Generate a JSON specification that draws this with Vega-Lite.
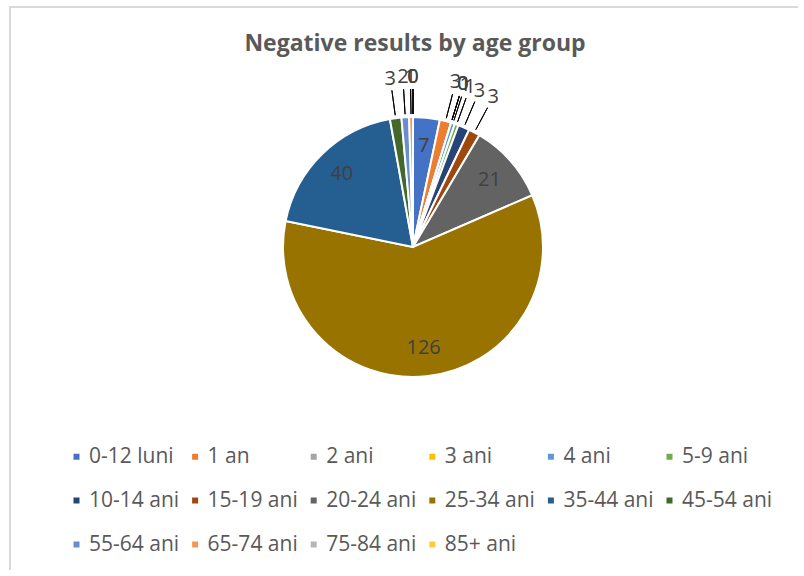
{
  "$schema": "https://vega.github.io/schema/vega-lite/v6.json",
  "autosize": "none",
  "width": 794,
  "height": 569,
  "padding": {"left": 10, "top": 7, "right": -6, "bottom": -6},
  "background": "#ffffff",
  "title": {
    "text": "Negative results by age group",
    "font": "Open Sans",
    "fontSize": 23,
    "fontWeight": "bold",
    "color": "#595959",
    "anchor": "middle",
    "dx": 8,
    "offset": -50
  },
  "data": {
    "values": [
      {"i": 0, "age": "0-12 luni", "n": 7},
      {"i": 1, "age": "1 an", "n": 3},
      {"i": 2, "age": "2 ani", "n": 0},
      {"i": 3, "age": "3 ani", "n": 0},
      {"i": 4, "age": "4 ani", "n": 1},
      {"i": 5, "age": "5-9 ani", "n": 1},
      {"i": 6, "age": "10-14 ani", "n": 3},
      {"i": 7, "age": "15-19 ani", "n": 3},
      {"i": 8, "age": "20-24 ani", "n": 21},
      {"i": 9, "age": "25-34 ani", "n": 126},
      {"i": 10, "age": "35-44 ani", "n": 40},
      {"i": 11, "age": "45-54 ani", "n": 3},
      {"i": 12, "age": "55-64 ani", "n": 2},
      {"i": 13, "age": "65-74 ani", "n": 1},
      {"i": 14, "age": "75-84 ani", "n": 0},
      {"i": 15, "age": "85+ ani", "n": 0}
    ]
  },
  "transform": [
    {"stack": "n", "groupby": [], "sort": [{"field": "i", "order": "ascending"}], "as": ["s0", "s1"]},
    {"calculate": "(datum.s0 + datum.s1) / 2", "as": "mid"}
  ],
  "layer": [
    {
      "mark": {"type": "rect", "fill": null, "stroke": "#D9D9D9", "strokeWidth": 2},
      "encoding": {}
    },
    {
      "mark": {"type": "arc", "radius": 130, "stroke": "#ffffff", "strokeWidth": 2, "xOffset": 6, "yOffset": -44.5},
      "encoding": {
        "theta": {"field": "s0", "type": "quantitative", "scale": {"domain": [0, 211]}},
        "theta2": {"field": "s1"},
        "color": {
          "field": "age",
          "type": "nominal",
          "scale": {
            "domain": ["0-12 luni", "1 an", "2 ani", "3 ani", "4 ani", "5-9 ani", "10-14 ani", "15-19 ani", "20-24 ani", "25-34 ani", "35-44 ani", "45-54 ani", "55-64 ani", "65-74 ani", "75-84 ani", "85+ ani"],
            "range": ["#4472C4", "#ED7D31", "#A5A5A5", "#FFC000", "#5B9BD5", "#70AD47", "#264478", "#9E480E", "#636363", "#997300", "#255E91", "#43682B", "#698ED0", "#F1975A", "#B7B7B7", "#FFCD33"]
          },
          "legend": {
            "title": null,
            "orient": "none",
            "legendX": 56,
            "legendY": 439,
            "direction": "horizontal",
            "columns": 6,
            "gridAlign": "each",
            "columnPadding": 4.6,
            "rowPadding": 22,
            "symbolType": "square",
            "symbolSize": 36,
            "symbolStrokeWidth": 0,
            "labelFont": "Open Sans",
            "labelFontSize": 21,
            "labelColor": "#595959",
            "labelOffset": 2,
            "labelLimit": 200
          }
        }
      }
    },
    {
      "transform": [{"filter": "datum.n < 7"}],
      "mark": {"type": "arc", "radius": 158, "radius2": 133, "fill": null, "stroke": "#000000", "strokeWidth": 1, "xOffset": 6, "yOffset": -44.5},
      "encoding": {
        "theta": {"field": "mid", "type": "quantitative"},
        "theta2": {"field": "mid"}
      }
    },
    {
      "transform": [{"filter": "datum.n >= 7"}],
      "mark": {"type": "text", "radius": 102, "font": "Open Sans", "fontSize": 20, "color": "#404040", "xOffset": 6, "yOffset": -44.5},
      "encoding": {
        "theta": {"field": "mid", "type": "quantitative"},
        "text": {"field": "n", "type": "quantitative"}
      }
    },
    {
      "transform": [{"filter": "datum.n < 7"}],
      "mark": {"type": "text", "radius": 170, "font": "Open Sans", "fontSize": 20, "color": "#404040", "xOffset": 6, "yOffset": -44.5},
      "encoding": {
        "theta": {"field": "mid", "type": "quantitative"},
        "text": {"field": "n", "type": "quantitative"}
      }
    }
  ]
}
